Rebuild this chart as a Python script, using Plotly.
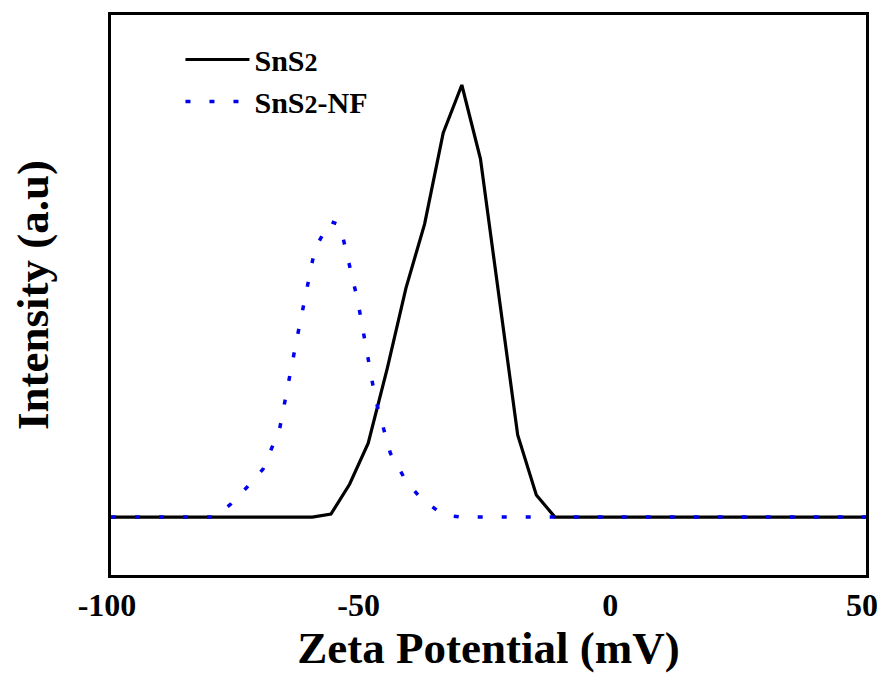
import plotly.graph_objects as go

# Zeta potential (mV) and intensity (a.u.)
sns2_x = [-100, -60, -56.3, -52.6, -48.9, -45.1, -41.4, -37.7, -34.0, -30.3, -26.6, -22.9, -19.2, -15.5, -11.8, 50]
sns2_y = [0, 0, 0.7, 7.6, 17.1, 34.5, 53.0, 67.8, 88.9, 100, 82.9, 50.9, 19.0, 5.1, 0, 0]

nf_x = [-100, -79.7, -76.4, -73.0, -69.8, -66.5, -63.0, -59.5, -56.5, -54.5, -51.0, -47.5, -44.5, -41.5, -38.5, -34.0, -30.5, 50]
nf_y = [0, 0, 2.8, 6.9, 11.1, 20.4, 41.7, 62.0, 68.5, 67.6, 50.2, 27.5, 14.8, 8.6, 4.4, 0.5, 0, 0]

x_ticks = [-100, -50, 0, 50]

FONT = "Liberation Serif"

fig = go.Figure()
fig.add_trace(go.Scatter(
    x=sns2_x, y=sns2_y, mode="lines", name="<b>SnS<span style='font-size:26px'>2</span></b>",
    line=dict(color="black", width=3.2),
))
fig.add_trace(go.Scatter(
    x=nf_x, y=nf_y, mode="lines", name="<b>SnS<span style='font-size:26px'>2</span>-NF</b>",
    line=dict(color="#0000ee", width=3.5, dash="5px,19px"),
))

fig.update_layout(
    width=877, height=666,
    margin=dict(l=103, r=19, t=7, b=99, autoexpand=False),
    paper_bgcolor="white", plot_bgcolor="white",
    font=dict(family=FONT, color="black"),
    showlegend=True,
    legend=dict(
        x=0.092, y=0.967, xanchor="left", yanchor="top",
        bgcolor="rgba(0,0,0,0)", borderwidth=0,
        font=dict(family=FONT, size=30, color="black"),
        itemwidth=64, tracegroupgap=0,
    ),
    xaxis=dict(
        range=[-100, 50], tickvals=x_ticks, ticktext=[f"<b>{v}</b>" for v in x_ticks],
        showgrid=False, zeroline=False, showline=True, mirror=True, automargin=False,
        linecolor="black", linewidth=3, ticks="", ticklabeloverflow="allow",
        ticklabelshift=-4,
        tickfont=dict(family=FONT, size=32, color="black"),
        title=dict(text="<b>Zeta Potential (mV)</b>", font=dict(family=FONT, size=45, color="black"), standoff=10),
    ),
    yaxis=dict(
        range=[-13.4, 116.2], showticklabels=False, automargin=False,
        showgrid=False, zeroline=False, showline=True, mirror=True,
        linecolor="black", linewidth=3, ticks="",
        title=dict(text="<b>Intensity (a.u)</b>", font=dict(family=FONT, size=45, color="black"), standoff=50),
    ),
)

fig.write_html("out.html")
